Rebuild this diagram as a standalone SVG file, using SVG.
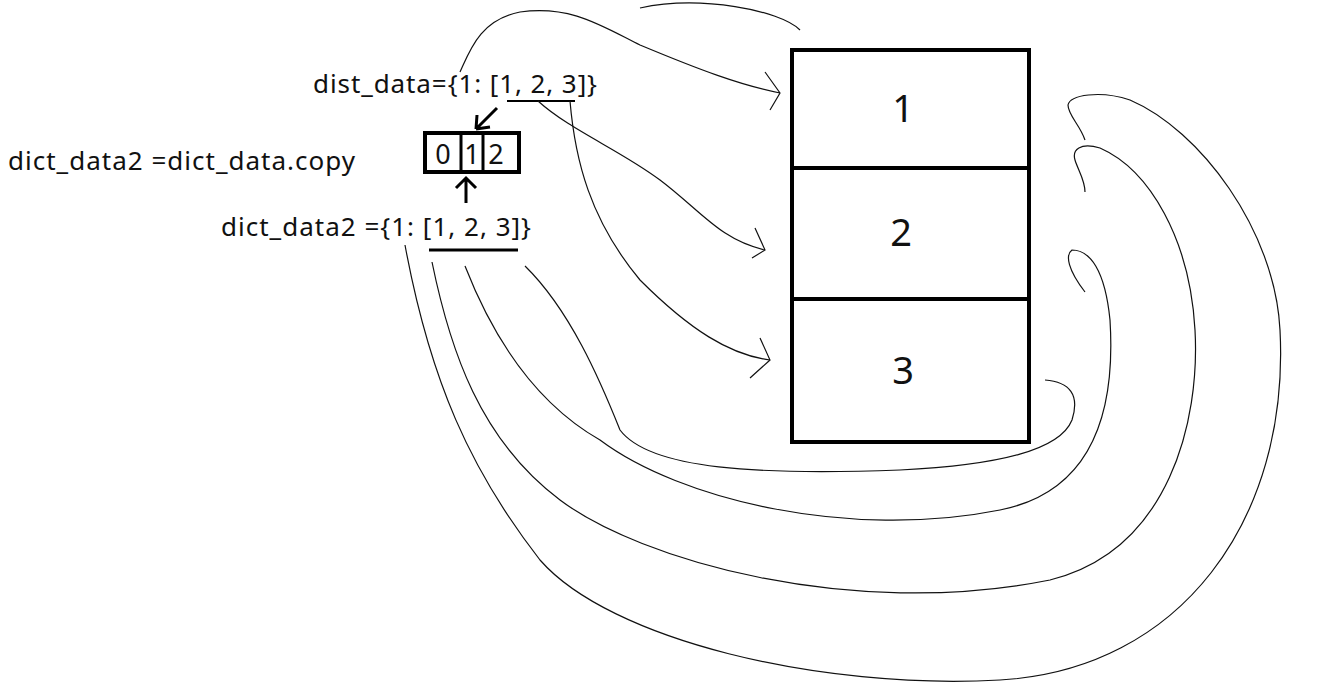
<svg xmlns="http://www.w3.org/2000/svg" width="1317" height="700" viewBox="0 0 1317 700">
<style>
.t{font-family:"Noto Sans","Liberation Sans",sans-serif;fill:#111}
.c{fill:none;stroke:#111;stroke-width:1.2}
.b{fill:#fff;stroke:#000;stroke-width:4}
</style>
<rect width="1317" height="700" fill="#fff"/>
<g id="labels">
<text class="t" x="313" y="93" font-size="26" textLength="284">dist_data={1: [1, 2, 3]}</text>
<text class="t" x="8" y="170" font-size="26" textLength="347">dict_data2 =dict_data.copy</text>
<text class="t" x="221" y="236" font-size="26" textLength="310">dict_data2 ={1: [1, 2, 3]}</text>
<line x1="507" y1="101" x2="575" y2="101" stroke="#000" stroke-width="2"/>
<line x1="429" y1="250" x2="518" y2="250" stroke="#000" stroke-width="3"/>
</g>
<g id="array">
<rect class="b" x="425" y="133" width="94" height="39"/>
<line x1="461" y1="133" x2="461" y2="172" stroke="#000" stroke-width="3"/>
<line x1="483" y1="133" x2="483" y2="172" stroke="#000" stroke-width="3"/>
<text class="t" x="443" y="164" font-size="27" text-anchor="middle">0</text>
<text class="t" x="472" y="164" font-size="27" text-anchor="middle">1</text>
<text class="t" x="496" y="164" font-size="27" text-anchor="middle">2</text>
</g>
<g id="memory">
<rect class="b" x="792" y="50" width="237" height="392"/>
<line x1="792" y1="168" x2="1029" y2="168" stroke="#000" stroke-width="4"/>
<line x1="792" y1="299" x2="1029" y2="299" stroke="#000" stroke-width="4"/>
<text class="t" x="903" y="122" font-size="38" text-anchor="middle">1</text>
<text class="t" x="901" y="246" font-size="38" text-anchor="middle">2</text>
<text class="t" x="903" y="384" font-size="38" text-anchor="middle">3</text>
</g>
<g id="connectors">
<path d="M497 108 L476 129 M476 129 L477 115 M476 129 L490 127" fill="none" stroke="#000" stroke-width="3"/>
<path d="M466 203 L466 178 M456 188 L466 178 L476 188" fill="none" stroke="#000" stroke-width="3"/>
<path class="c" d="M460 72 C470 50 480 20 520 12 C570 5 600 25 640 45 C700 70 740 85 780 93 M765 72 L780 93 L770 110"/>
<path class="c" d="M640 8 C700 -5 780 10 800 30"/>
<path class="c" d="M538 101 C570 130 620 150 660 180 C700 210 720 240 765 250 M755 228 L765 250 L752 258"/>
<path class="c" d="M570 101 C575 160 590 220 640 280 C690 330 730 355 770 360 M760 338 L770 360 L750 378"/>
<path class="c" d="M405 245 C430 380 470 470 540 560 C610 640 820 690 1000 680 C1180 670 1290 520 1280 330 C1275 230 1200 130 1130 100 C1100 90 1070 95 1068 105 C1068 115 1080 125 1085 140"/>
<path class="c" d="M432 262 C450 350 480 440 560 500 C640 560 850 620 1050 580 C1170 550 1200 420 1195 330 C1190 240 1150 170 1100 148 C1080 142 1072 150 1075 160 C1078 170 1085 180 1085 192"/>
<path class="c" d="M465 266 C490 330 530 400 600 440 C680 500 850 540 1000 510 C1100 490 1115 400 1110 320 C1105 270 1090 250 1072 250 C1065 255 1068 270 1085 292"/>
<path class="c" d="M525 266 C570 310 600 380 620 430 C650 470 760 475 900 470 C1000 465 1060 450 1072 420 C1080 395 1070 382 1045 380"/>
</g>
</svg>
